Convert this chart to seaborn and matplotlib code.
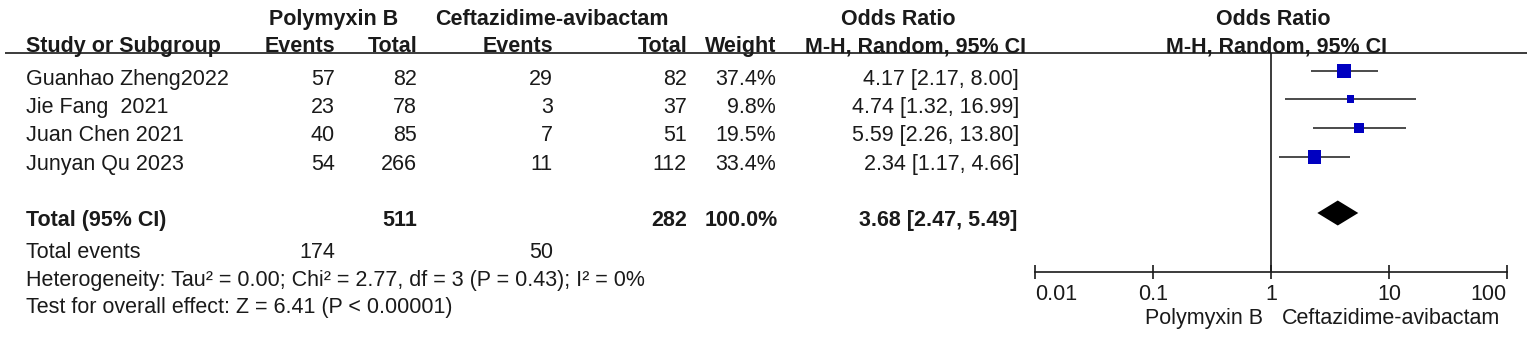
import matplotlib
matplotlib.use("Agg")
import matplotlib.pyplot as plt
from matplotlib.ticker import NullLocator
import numpy as np
import pandas as pd
import seaborn as sns

# study level data
studies = ["Guanhao Zheng2022", "Jie Fang  2021", "Juan Chen 2021", "Junyan Qu 2023"]
pmb_events = [57, 23, 40, 54]
pmb_total = [82, 78, 85, 266]
cza_events = [29, 3, 7, 11]
cza_total = [82, 37, 51, 112]
weight = [37.4, 9.8, 19.5, 33.4]
odds = [4.17, 4.74, 5.59, 2.34]
ci_low = [2.17, 1.32, 2.26, 1.17]
ci_high = [8.00, 16.99, 13.80, 4.66]

pooled_weight = 100.0
pooled_or = 3.68
pooled_low = 2.47
pooled_high = 5.49
heterogeneity = "Heterogeneity: Tau² = 0.00; Chi² = 2.77, df = 3 (P = 0.43); I² = 0%"
overall = "Test for overall effect: Z = 6.41 (P < 0.00001)"

axis_ticks = [0.01, 0.1, 1, 10, 100]
axis_labels = ["0.01", "0.1", "1", "10", "100"]

df = pd.DataFrame({"study": studies, "e1": pmb_events, "n1": pmb_total,
                   "e2": cza_events, "n2": cza_total, "w": weight,
                   "ratio": odds, "lo": ci_low, "hi": ci_high})

sns.set_style("white")
plt.rcParams["font.family"] = ["Liberation Sans", "DejaVu Sans"]
ink = "#1a1a1a"
fs = 15.5

W, H = 1535, 339
fig = plt.figure(figsize=(W / 100, H / 100), dpi=100)
fig.patch.set_facecolor("white")

# text layer in pixel coordinates
tab = fig.add_axes([0, 0, 1, 1])
tab.set_xlim(0, W)
tab.set_ylim(H, 0)
tab.axis("off")

def put(x, y, s, ha="right", bold=False):
    tab.text(x, y, s, ha=ha, va="baseline", fontsize=fs, color=ink,
             fontweight="bold" if bold else "normal")

# headers
put(334, 25, "Polymyxin B", ha="center", bold=True)
put(552, 25, "Ceftazidime-avibactam", ha="center", bold=True)
put(898, 25, "Odds Ratio", ha="center", bold=True)
put(1273, 25, "Odds Ratio", ha="center", bold=True)
put(26, 52, "Study or Subgroup", ha="left", bold=True)
put(335, 52, "Events", bold=True)
put(417, 52, "Total", bold=True)
put(553, 52, "Events", bold=True)
put(687, 52, "Total", bold=True)
put(776, 52, "Weight", bold=True)
put(1026, 52, "M-H, Random, 95% CI", bold=True)
put(1277, 52, "M-H, Random, 95% CI", ha="center", bold=True)
tab.hlines(53, 5, 1527, color=ink, lw=1.2)

row_text = [85, 113, 141, 170]
row_mark = [71, 99, 128, 157]
for yb, r in zip(row_text, df.itertuples()):
    put(26, yb, r.study, ha="left")
    put(335, yb, f"{r.e1}")
    put(417, yb, f"{r.n1}")
    put(553, yb, f"{r.e2}")
    put(687, yb, f"{r.n2}")
    put(776, yb, f"{r.w:.1f}%")
    put(1019, yb, f"{r.ratio:.2f} [{r.lo:.2f}, {r.hi:.2f}]")

put(26, 226, "Total (95% CI)", ha="left", bold=True)
put(417, 226, f"{df.n1.sum()}", bold=True)
put(687, 226, f"{df.n2.sum()}", bold=True)
put(778, 226, f"{pooled_weight:.1f}%", bold=True)
put(1017, 226, f"{pooled_or:.2f} [{pooled_low:.2f}, {pooled_high:.2f}]", bold=True)
put(26, 258, "Total events", ha="left")
put(335, 258, f"{df.e1.sum()}")
put(553, 258, f"{df.e2.sum()}")
put(26, 286, heterogeneity, ha="left")
put(26, 313, overall, ha="left")

# forest panel, log odds ratio scale
fx = fig.add_axes([1035 / W, 0, 472 / W, 1])
fx.set_facecolor("none")
fx.set_xscale("log")
fx.set_xlim(0.01, 100)
fx.set_ylim(H, 0)
for side in ["top", "left", "right"]:
    fx.spines[side].set_visible(False)
fx.spines["bottom"].set_position(("data", 272))
fx.spines["bottom"].set_color(ink)
fx.spines["bottom"].set_linewidth(1.2)
fx.set_yticks([])
fx.set_xticks(axis_ticks)
fx.set_xticklabels(axis_labels)
fx.xaxis.set_minor_locator(NullLocator())
fx.tick_params(axis="x", which="major", bottom=True, direction="inout", length=10,
               width=1.2, color=ink, labelsize=fs, labelcolor=ink, pad=4)
labs = fx.get_xticklabels()
labs[0].set_ha("left")
labs[-1].set_ha("right")

fx.vlines(1, 53, 272, color=ink, lw=1.2)
fx.hlines(row_mark, df["lo"], df["hi"], color=ink, lw=1.1)
df["y"] = row_mark
sns.scatterplot(data=df, x="ratio", y="y", size="w", sizes=(9.8 * 2.72, 37.4 * 2.72),
                size_norm=(9.8, 37.4), marker="s", color="#0000c0", linewidth=0,
                legend=False, ax=fx, zorder=3)
fx.set_xlabel("")
fx.set_ylabel("")

yd = 213
fx.fill([pooled_low, pooled_or, pooled_high, pooled_or],
        [yd, yd - 12.5, yd, yd + 12.5], color="black", lw=0)

tab.text(1263, 324, "Polymyxin B", ha="right", va="baseline", fontsize=fs, color=ink)
tab.text(1282, 324, "Ceftazidime-avibactam", ha="left", va="baseline", fontsize=fs, color=ink)

fig.savefig("out.png", dpi=100)
